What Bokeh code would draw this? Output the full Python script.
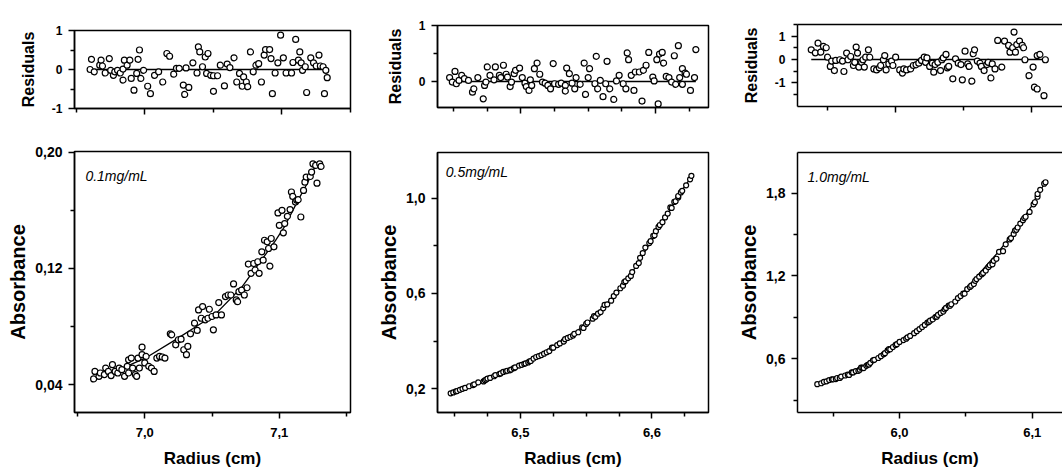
from bokeh.plotting import figure
from bokeh.models import Range1d, FixedTicker, CustomJSTickFormatter, LinearAxis, Label
from bokeh.layouts import row, column
from bokeh.embed import file_html
from bokeh.resources import INLINE

FONT = "Liberation Sans"

# ---------------- Panel 1 (0.1 mg/mL) ----------------
abs1_r = [6.962, 6.963, 6.966, 6.967, 6.970, 6.971, 6.973, 6.975, 6.976, 6.978,
          6.980, 6.981, 6.983, 6.985, 6.987, 6.988, 6.988, 6.990, 6.991, 6.993,
          6.994, 6.995, 6.996, 6.998, 6.998, 7.000, 7.001, 7.003, 7.005, 7.007,
          7.009, 7.011, 7.013, 7.015, 7.019, 7.020, 7.023, 7.025, 7.027, 7.029,
          7.031, 7.032, 7.034, 7.037, 7.039, 7.040, 7.042, 7.043, 7.045, 7.047,
          7.048, 7.050, 7.051, 7.053, 7.055, 7.057, 7.060, 7.062, 7.064, 7.066,
          7.068, 7.069, 7.070, 7.072, 7.074, 7.076, 7.077, 7.079, 7.081, 7.082,
          7.084, 7.085, 7.087, 7.088, 7.089, 7.091, 7.092, 7.093, 7.094, 7.096,
          7.099, 7.100, 7.102, 7.103, 7.104, 7.106, 7.108, 7.109, 7.110, 7.112,
          7.113, 7.114, 7.116, 7.118, 7.119, 7.120, 7.123, 7.124, 7.125, 7.127,
          7.128, 7.130, 7.131]
abs1_a = [0.0439, 0.0491, 0.0457, 0.0480, 0.0469, 0.0514, 0.0491, 0.0462, 0.0537, 0.0491,
          0.0480, 0.0514, 0.0503, 0.0457, 0.0526, 0.0480, 0.0571, 0.0583, 0.0514, 0.0469,
          0.0457, 0.0583, 0.0514, 0.0606, 0.0658, 0.0549, 0.0594, 0.0526, 0.0514, 0.0491,
          0.0583, 0.0594, 0.0590, 0.0583, 0.0750, 0.0743, 0.0674, 0.0709, 0.0713, 0.0640,
          0.0606, 0.0663, 0.0750, 0.0823, 0.0773, 0.0914, 0.0857, 0.0937, 0.0846, 0.0857,
          0.0919, 0.0869, 0.0777, 0.0880, 0.0965, 0.0880, 0.1006, 0.1017, 0.1017, 0.1093,
          0.0983, 0.0971, 0.1040, 0.1051, 0.1017, 0.1067, 0.1230, 0.1166, 0.1234, 0.1189,
          0.1246, 0.1166, 0.1314, 0.1257, 0.1394, 0.1383, 0.1337, 0.1216, 0.1406, 0.1349,
          0.1582, 0.1497, 0.1600, 0.1445, 0.1509, 0.1559, 0.1605, 0.1726, 0.1696, 0.1657,
          0.1669, 0.1673, 0.1554, 0.1737, 0.1794, 0.1829, 0.1833, 0.1863, 0.1920, 0.1909,
          0.1787, 0.1920, 0.1902]
fit1_r = [6.962, 6.980, 7.000, 7.023, 7.040, 7.052, 7.072, 7.087, 7.097, 7.104, 7.114, 7.121, 7.126, 7.130]
fit1_a = [0.044, 0.050, 0.058, 0.071, 0.081, 0.088, 0.107, 0.126, 0.139, 0.149, 0.167, 0.179, 0.189, 0.193]
res1_r = [6.960, 6.961, 6.963, 6.967, 6.968, 6.969, 6.971, 6.974, 6.975, 6.977,
          6.978, 6.980, 6.982, 6.984, 6.984, 6.985, 6.987, 6.989, 6.990, 6.992,
          6.994, 6.995, 6.996, 6.997, 6.999, 7.002, 7.004, 7.007, 7.010, 7.013,
          7.016, 7.018, 7.021, 7.023, 7.025, 7.028, 7.029, 7.030, 7.032, 7.035,
          7.038, 7.039, 7.040, 7.042, 7.044, 7.045, 7.046, 7.048, 7.050, 7.050,
          7.053, 7.055, 7.058, 7.060, 7.062, 7.065, 7.067, 7.069, 7.071, 7.072,
          7.074, 7.075, 7.077, 7.079, 7.081, 7.083, 7.085, 7.087, 7.088, 7.091,
          7.092, 7.093, 7.095, 7.097, 7.099, 7.101, 7.103, 7.107, 7.108, 7.110,
          7.112, 7.113, 7.114, 7.115, 7.117, 7.118, 7.121, 7.123, 7.125, 7.127,
          7.128, 7.130, 7.131, 7.132, 7.133]
res1_v = [0.00, 0.26, -0.06, 0.11, 0.24, 0.09, -0.09, 0.28, -0.02, -0.15,
          -0.06, -0.02, -0.09, 0.01, -0.27, 0.24, 0.11, 0.24, -0.23, -0.53,
          -0.10, 0.26, 0.50, -0.23, -0.02, -0.43, -0.62, -0.15, -0.06, -0.32,
          0.41, 0.34, -0.12, 0.03, 0.03, -0.40, -0.64, 0.04, -0.46, 0.17,
          -0.09, 0.58, 0.45, 0.07, 0.32, -0.10, 0.41, -0.15, -0.56, -0.16,
          -0.16, 0.11, -0.42, 0.14, 0.05, 0.30, -0.32, -0.10, -0.43, -0.19,
          -0.32, -0.44, 0.45, -0.06, 0.11, 0.15, -0.32, 0.37, 0.51, 0.51,
          0.28, -0.62, -0.09, 0.17, 0.88, 0.30, -0.09, -0.09, 0.18, 0.77,
          0.24, 0.45, 0.17, -0.02, 0.07, -0.59, 0.30, 0.17, 0.09, 0.37,
          0.09, 0.07, -0.62, -0.02, -0.21]

# ---------------- Panel 2 (0.5 mg/mL) ----------------
r2 = [6.447, 6.449, 6.451, 6.452, 6.454, 6.456, 6.458, 6.461, 6.464, 6.465,
      6.468, 6.472, 6.473, 6.474, 6.475, 6.477, 6.480, 6.481, 6.484, 6.485,
      6.487, 6.489, 6.490, 6.492, 6.493, 6.495, 6.496, 6.499, 6.501, 6.503,
      6.504, 6.506, 6.507, 6.508, 6.510, 6.512, 6.514, 6.516, 6.518, 6.520,
      6.522, 6.524, 6.525, 6.528, 6.530, 6.533, 6.533, 6.534, 6.536, 6.538,
      6.540, 6.541, 6.544, 6.547, 6.548, 6.550, 6.551, 6.555, 6.556, 6.557,
      6.559, 6.561, 6.563, 6.564, 6.566, 6.569, 6.571, 6.573, 6.576, 6.578,
      6.579, 6.580, 6.582, 6.584, 6.585, 6.588, 6.590, 6.591, 6.593, 6.595,
      6.598, 6.599, 6.601, 6.602, 6.603, 6.605, 6.606, 6.608, 6.610, 6.612,
      6.614, 6.615, 6.617, 6.618, 6.620, 6.620, 6.622, 6.623, 6.626, 6.629,
      6.630]
abs2_a = [0.180, 0.184, 0.188, 0.190, 0.195, 0.199, 0.203, 0.210, 0.215, 0.218,
          0.226, 0.230, 0.235, 0.238, 0.242, 0.245, 0.252, 0.257, 0.261, 0.264,
          0.270, 0.273, 0.275, 0.277, 0.280, 0.286, 0.289, 0.297, 0.300, 0.304,
          0.306, 0.310, 0.315, 0.316, 0.326, 0.333, 0.337, 0.341, 0.347, 0.353,
          0.358, 0.372, 0.372, 0.383, 0.390, 0.400, 0.398, 0.408, 0.413, 0.418,
          0.423, 0.430, 0.437, 0.458, 0.455, 0.472, 0.478, 0.494, 0.505, 0.502,
          0.515, 0.522, 0.538, 0.552, 0.554, 0.570, 0.589, 0.604, 0.622, 0.633,
          0.648, 0.652, 0.664, 0.674, 0.690, 0.716, 0.728, 0.750, 0.770, 0.793,
          0.812, 0.820, 0.842, 0.845, 0.862, 0.880, 0.888, 0.900, 0.920, 0.936,
          0.962, 0.960, 0.985, 0.988, 1.004, 1.010, 1.025, 1.032, 1.055, 1.080,
          1.095]
res2_v = [0.07, -0.01, 0.18, -0.04, 0.02, 0.11, 0.05, 0.02, -0.19, -0.13,
          0.07, -0.31, -0.07, -0.01, 0.26, 0.11, 0.03, 0.26, 0.11, 0.07,
          0.29, 0.13, 0.08, -0.09, -0.01, 0.14, 0.20, 0.24, 0.07, -0.03,
          -0.09, -0.16, 0.03, -0.07, 0.23, 0.33, 0.13, -0.01, -0.03, -0.07,
          -0.13, 0.32, -0.04, -0.05, -0.03, -0.07, -0.17, 0.24, 0.14, -0.03,
          -0.13, 0.07, -0.05, 0.33, -0.23, 0.07, 0.23, -0.04, 0.45, -0.13,
          0.02, -0.27, -0.04, 0.36, -0.13, -0.32, 0.01, 0.11, -0.04, -0.13,
          0.51, 0.39, 0.11, -0.16, 0.17, 0.17, -0.35, 0.20, 0.29, 0.52,
          0.08, 0.01, 0.39, -0.40, 0.49, 0.52, 0.33, 0.09, 0.07, -0.01,
          0.46, -0.05, 0.64, 0.07, -0.05, 0.23, 0.15, 0.13, -0.16, 0.07,
          0.57]
fit2_r = [6.447, 6.455, 6.464, 6.472, 6.479, 6.489, 6.499, 6.509, 6.519, 6.529, 6.539,
          6.549, 6.559, 6.569, 6.579, 6.589, 6.596, 6.605, 6.614, 6.621, 6.630]
fit2_a = [0.180, 0.197, 0.217, 0.233, 0.250, 0.272, 0.295, 0.325, 0.357, 0.392, 0.428,
          0.466, 0.516, 0.578, 0.644, 0.722, 0.790, 0.868, 0.955, 1.020, 1.090]

# ---------------- Panel 3 (1.0 mg/mL) ----------------
r3 = [5.938, 5.941, 5.943, 5.945, 5.947, 5.949, 5.950, 5.952, 5.953, 5.955,
      5.956, 5.959, 5.961, 5.962, 5.964, 5.965, 5.967, 5.969, 5.970, 5.971,
      5.972, 5.973, 5.975, 5.976, 5.977, 5.978, 5.980, 5.981, 5.984, 5.986,
      5.988, 5.989, 5.991, 5.992, 5.993, 5.995, 5.997, 5.998, 6.000, 6.003,
      6.005, 6.006, 6.008, 6.011, 6.013, 6.015, 6.017, 6.019, 6.021, 6.022,
      6.023, 6.025, 6.027, 6.028, 6.029, 6.031, 6.033, 6.034, 6.035, 6.037,
      6.038, 6.039, 6.042, 6.044, 6.046, 6.048, 6.049, 6.051, 6.053, 6.054,
      6.056, 6.057, 6.058, 6.060, 6.062, 6.063, 6.065, 6.067, 6.068, 6.070,
      6.071, 6.073, 6.075, 6.078, 6.080, 6.083, 6.084, 6.086, 6.087, 6.088,
      6.089, 6.091, 6.093, 6.094, 6.095, 6.098, 6.101, 6.102, 6.104, 6.104,
      6.106, 6.109, 6.110]
abs3_a = [0.415, 0.422, 0.432, 0.436, 0.445, 0.450, 0.450, 0.452, 0.460, 0.460,
          0.470, 0.478, 0.484, 0.482, 0.500, 0.500, 0.510, 0.512, 0.520, 0.535,
          0.535, 0.532, 0.548, 0.556, 0.558, 0.570, 0.588, 0.592, 0.605, 0.618,
          0.632, 0.640, 0.660, 0.670, 0.668, 0.685, 0.700, 0.705, 0.722, 0.735,
          0.745, 0.755, 0.765, 0.785, 0.800, 0.815, 0.830, 0.845, 0.862, 0.866,
          0.876, 0.885, 0.902, 0.905, 0.918, 0.932, 0.942, 0.958, 0.968, 0.985,
          0.984, 0.995, 1.015, 1.040, 1.055, 1.072, 1.072, 1.105, 1.120, 1.130,
          1.142, 1.165, 1.178, 1.195, 1.212, 1.222, 1.240, 1.265, 1.278, 1.285,
          1.310, 1.325, 1.375, 1.380, 1.430, 1.465, 1.475, 1.505, 1.530, 1.535,
          1.552, 1.580, 1.605, 1.620, 1.630, 1.665, 1.720, 1.735, 1.775, 1.795,
          1.825, 1.870, 1.880]
res3_v = [0.42, 0.29, 0.71, 0.32, 0.57, 0.51, 0.10, -0.30, -0.07, -0.48,
          -0.04, -0.01, -0.07, -0.52, 0.28, -0.01, 0.13, -0.26, -0.12, 0.54,
          0.28, -0.33, -0.12, -0.01, -0.33, 0.10, 0.42, 0.10, -0.41, -0.45,
          -0.36, -0.26, -0.01, 0.17, -0.45, -0.19, -0.07, -0.26, 0.10, -0.45,
          -0.59, -0.41, -0.45, -0.41, -0.26, -0.23, -0.16, -0.04, 0.10, -0.12,
          0.07, -0.30, -0.16, -0.55, -0.22, -0.12, -0.48, -0.01, 0.07, 0.22,
          -0.36, -0.30, -0.84, 0.03, -0.16, -0.22, -0.88, 0.36, -0.19, -0.30,
          -0.94, 0.25, 0.42, -0.07, -0.16, -0.30, -0.48, -0.22, -0.12, -0.80,
          -0.19, -0.41, 0.83, -0.33, 0.80, 0.61, 0.32, 0.51, 1.19, 0.32,
          0.65, 0.80, 0.61, 0.51, -0.01, -0.70, -0.33, -1.20, -1.28, 0.17,
          0.22, -1.57, -0.01]
fit3_r = [5.938, 5.945, 5.957, 5.970, 5.983, 5.995, 6.008, 6.021, 6.034, 6.046,
          6.054, 6.064, 6.074, 6.084, 6.092, 6.099, 6.104, 6.110]
fit3_a = [0.41, 0.44, 0.48, 0.53, 0.61, 0.69, 0.765, 0.86, 0.955, 1.06,
          1.15, 1.26, 1.37, 1.49, 1.60, 1.70, 1.79, 1.88]

conc_labels = ["0.1mg/mL", "0.5mg/mL", "1.0mg/mL"]


def fmt(dec):
    if dec is None:
        return CustomJSTickFormatter(code="return '';")
    return CustomJSTickFormatter(code="return tick.toFixed(%d).replace('.', ',');" % dec)


def style_axis(ax, ticks, minor, dec, label_size, label=None, label_size_title="16px",
               lab_standoff=6, title_standoff=3):
    ax.ticker = FixedTicker(ticks=ticks, minor_ticks=minor)
    ax.formatter = fmt(dec)
    ax.axis_line_width = 1.5
    ax.axis_line_color = "black"
    ax.major_tick_line_width = 1.5
    ax.minor_tick_line_width = 1.5
    ax.major_tick_in = 0
    ax.minor_tick_in = 0
    ax.major_tick_out = 6
    ax.minor_tick_out = 4
    ax.major_label_text_font = FONT
    ax.major_label_text_font_style = "bold"
    ax.major_label_text_color = "black"
    ax.major_label_standoff = lab_standoff
    ax.major_label_text_font_size = label_size
    if label is not None:
        ax.axis_label = label
        ax.axis_label_text_font = FONT
        ax.axis_label_text_font_style = "bold"
        ax.axis_label_text_font_size = label_size_title
        ax.axis_label_text_color = "black"
        ax.axis_label_standoff = title_standoff


def base_fig(w, h, xr, yr, mb, outline=True):
    p = figure(width=w, height=h, x_range=Range1d(*xr), y_range=Range1d(*yr),
               output_backend="svg", toolbar_location=None,
               min_border_left=mb[0], min_border_right=mb[1],
               min_border_top=mb[2], min_border_bottom=mb[3])
    p.xgrid.visible = False
    p.ygrid.visible = False
    p.background_fill_color = "white"
    p.border_fill_color = "white"
    if outline:
        p.outline_line_color = "black"
        p.outline_line_width = 1.5
        p.outline_line_alpha = 1.0
    else:
        p.outline_line_color = None
    return p


def add_top_line(p):
    top = LinearAxis(ticker=FixedTicker(ticks=[], minor_ticks=[]),
                     major_tick_out=0, major_tick_in=0, minor_tick_out=0, minor_tick_in=0,
                     axis_line_width=1.5, axis_line_color="black")
    p.add_layout(top, "above")


def residual_fig(w, h, xr, yr, mb, xt, xm, yt, ym, r, v, outline=True):
    p = base_fig(w, h, xr, yr, mb, outline)
    style_axis(p.below[0], xt, xm, None, "12px")
    style_axis(p.left[0], yt, ym, 0, "12px", label="Residuals", label_size_title="16px",
               lab_standoff=6, title_standoff=12)
    if not outline:
        add_top_line(p)
    p.line(x=[min(r), max(r)], y=[0, 0], line_color="black", line_width=1.3)
    p.scatter(x=r, y=v, size=6, marker="circle", fill_color="white",
              line_color="black", line_width=1.2)
    return p


def absorb_fig(w, h, xr, yr, mb, xt, xm, yt, ym, ydec, r, a, fr, fa, size, conc, conc_pos, outline=True):
    p = base_fig(w, h, xr, yr, mb, outline)
    style_axis(p.below[0], xt, xm, 1, "13px", label="Radius (cm)", label_size_title="17px",
               lab_standoff=9, title_standoff=9)
    style_axis(p.left[0], yt, ym, ydec, "14px", label="Absorbance", label_size_title="20px",
               lab_standoff=6, title_standoff=3)
    if not outline:
        add_top_line(p)
    p.line(x=fr, y=fa, line_color="black", line_width=1.3)
    p.scatter(x=r, y=a, size=size, marker="circle", fill_color="white",
              line_color="black", line_width=1.2)
    p.add_layout(Label(x=conc_pos[0], y=conc_pos[1], text=conc, text_font=FONT,
                       text_font_style="italic", text_font_size="14px",
                       text_baseline="middle", text_color="black"))
    return p


# Column 1  (canvas x 0..366)
p1r = residual_fig(366, 122, (6.9486, 7.15), (-1.0, 1.0), (72, 16, 30, 14),
                   [7.0, 7.1], [6.95, 7.05, 7.15], [-1, 0, 1], [-0.5, 0.5], res1_r, res1_v)
p1a = absorb_fig(366, 348, (6.9478, 7.1529), (0.0208, 0.2005), (74, 13, 29, 57),
                 [7.0, 7.1], [6.95, 7.05, 7.15], [0.04, 0.12, 0.20], [0.08, 0.16], 2,
                 abs1_r, abs1_a, fit1_r, fit1_a, 6, conc_labels[0], (6.9559, 0.1834))
# Column 2  (canvas x 366..722)
p2r = residual_fig(356, 122, (6.438, 6.6394), (-0.464, 1.0), (66, 14, 25, 15),
                   [6.5, 6.6], [6.45, 6.475, 6.525, 6.55, 6.575, 6.625], [0, 1], [0.5], r2, res2_v)
p2a = absorb_fig(356, 348, (6.437, 6.643), (0.0995, 1.193), (71, 9, 30, 57),
                 [6.5, 6.6], [6.45, 6.475, 6.525, 6.55, 6.575, 6.625], [0.2, 0.6, 1.0], [0.4, 0.8], 1,
                 r2, abs2_a, fit2_r, fit2_a, 5, conc_labels[1], (6.4433, 1.109))
# Column 3  (canvas x 722..1062)
p3r = residual_fig(340, 122, (5.9279, 6.1226), (-2.04, 1.52), (70, 0, 24, 16),
                   [6.0, 6.1], [5.95, 6.05], [-1, 0, 1], [-1.5, -0.5, 0.5, 1.5], r3, res3_v, outline=False)
p3a = absorb_fig(340, 348, (5.9231, 6.1228), (0.2096, 2.096), (75, 0, 30, 57),
                 [6.0, 6.1], [5.95, 6.05], [0.6, 1.2, 1.8], [0.3, 0.9, 1.5], 1,
                 r3, abs3_a, fit3_r, fit3_a, 5, conc_labels[2], (5.9307, 1.915), outline=False)

layout = row(column(p1r, p1a), column(p2r, p2a), column(p3r, p3a))
open("out.html", "w").write(file_html(layout, INLINE))
